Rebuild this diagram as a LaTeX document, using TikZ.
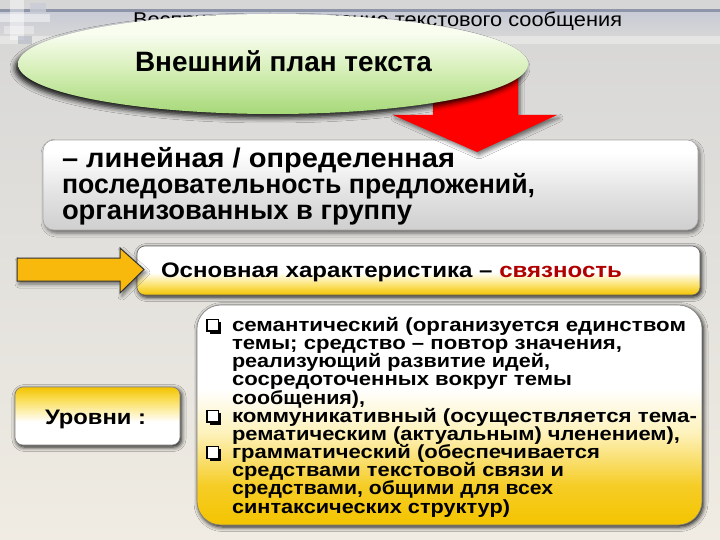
\documentclass[tikz,border=0pt]{standalone}
\usepackage{fontspec}
\usepackage{graphicx}
\setmainfont{Liberation Sans}
\usetikzlibrary{shapes.geometric,shadows,shadows.blur}
\definecolor{bgtop}{HTML}{D6D6D6}
\definecolor{bgbot}{HTML}{F0ECE3}
\definecolor{hdrdark}{HTML}{8E95A8}
\definecolor{hdrlight}{HTML}{C9CCD6}
\definecolor{arrowred}{HTML}{FF0000}
\definecolor{arrowyel}{HTML}{F8B80C}
\definecolor{darkred}{HTML}{B00000}
\definecolor{grayedge}{HTML}{A8A8A8}
\definecolor{grayfill}{HTML}{CFCFCF}
\definecolor{yel}{HTML}{F4C400}
\definecolor{yelmid}{HTML}{FBE26A}
\definecolor{grn}{HTML}{A6D878}
\definecolor{grnmid}{HTML}{D6EFB8}
\definecolor{grntop}{HTML}{F8FDF0}
% shadings: visible part of a path fill is 25bp..75bp
\pgfdeclareverticalshading{ellshade}{100bp}{color(0bp)=(grn); color(25bp)=(grn); color(47bp)=(grnmid); color(65bp)=(grntop); color(100bp)=(grntop)}
\pgfdeclareverticalshading{grayshade}{100bp}{color(0bp)=(grayfill); color(25bp)=(grayfill); color(45bp)=(grayfill!60!white); color(68bp)=(white); color(100bp)=(white)}
\pgfdeclareverticalshading{charshade}{100bp}{color(0bp)=(yel); color(25bp)=(yel); color(35bp)=(yelmid); color(48bp)=(white); color(100bp)=(white)}
\pgfdeclareverticalshading{bigshade}{100bp}{color(0bp)=(yel); color(25bp)=(yel); color(34bp)=(yel!85!white); color(46bp)=(yelmid!45!white); color(56bp)=(white); color(100bp)=(white)}
\pgfdeclareverticalshading{lvlshade}{100bp}{color(0bp)=(white); color(45bp)=(white); color(62bp)=(yelmid); color(75bp)=(yel); color(100bp)=(yel)}
\newcommand\fitw[2]{\resizebox{#1pt}{\height}{#2}}
\tikzset{
  txt/.style={anchor=base west, inner sep=0pt, outer sep=0pt},
  softshadow/.style={blur shadow={shadow xshift=2pt, shadow yshift=-3pt, shadow blur radius=4pt, shadow opacity=55}},
  darkshadow/.style={blur shadow={shadow xshift=1.5pt, shadow yshift=-2pt, shadow blur radius=4.5pt, shadow opacity=95, shadow scale=1.0}},
}
\newcommand\qbox[2]{%
  \fill (#1+2.5,#2+2.5) rectangle (#1+14,#2+14);
  \draw[line width=1.1pt, fill=white] (#1,#2) rectangle (#1+11.5,#2+11.5);}
\begin{document}
\begin{tikzpicture}[x=1pt,y=-1pt]
\useasboundingbox (0,0) rectangle (720,540);
% background
\shade[top color=bgtop, bottom color=bgbot] (0,0) rectangle (720,540);
% header band
\fill[hdrdark] (0,9) rectangle (720,13);
\shade[top color=hdrlight, bottom color=bgtop] (0,13) rectangle (720,36);
\fill[white, opacity=0.35] (0,36) rectangle (720,44);
% top-left decoration
\fill[white, opacity=0.45] (10,0) rectangle (24,40);
\fill[white, opacity=0.45] (0,14) rectangle (50,22);
\fill[hdrlight, opacity=0.8] (30,3) rectangle (46,12);
\fill[white, opacity=0.35] (4,26) rectangle (34,34);
\fill[hdrdark, opacity=0.4] (18,36) rectangle (32,44);
% title (partly hidden)
\node[txt] (title) at (133,27) {\fontsize{20}{20}\selectfont\fitw{489}{Восприятие и понимание текстового сообщения}};
% gray box
\node[draw=grayedge, line width=0.6pt, rounded corners=11pt, shading=grayshade, softshadow,
      minimum width=655pt, minimum height=90pt, inner sep=0pt] (gbox) at (370.5,185) {};
% red arrow
\fill[arrowred, softshadow] (433,55) -- (518,55) -- (518,115) -- (557,115) -- (477,152) -- (393,115) -- (433,115) -- cycle;
% ellipse
\node[ellipse, minimum width=510pt, minimum height=100pt, inner sep=0pt, shading=ellshade,
      blur shadow={shadow xshift=-3pt, shadow yshift=-4pt, shadow blur radius=5pt, shadow opacity=90}] (ell) at (273,64) {};
\node[txt] (elltext) at (135,72) {\fontsize{28}{28}\selectfont\bfseries\fitw{297}{Внешний план текста}};
% gray box text
\node[txt] (g1) at (62,168) {\fontsize{27}{27}\selectfont\bfseries\fitw{393}{– линейная / определенная}};
\node[txt] (g2) at (62,194) {\fontsize{27}{27}\selectfont\bfseries\fitw{473}{последовательность предложений,}};
\node[txt] (g3) at (62,219) {\fontsize{27}{27}\selectfont\bfseries\fitw{350}{организованных в группу}};
% characteristic box
\node[draw=black!60, line width=0.6pt, rounded corners=8pt, shading=charshade, darkshadow,
      minimum width=563pt, minimum height=49pt, inner sep=0pt] (cbox) at (418.5,270.5) {};
\node[txt] (ctext) at (161,277) {\fontsize{21}{21}\selectfont\bfseries\fitw{461}{Основная характеристика – \textcolor{darkred}{связность}}};
% yellow arrow
\filldraw[fill=arrowyel, draw=black!80, line width=1pt, softshadow] (17,258) -- (120,258) -- (120,248) -- (144,269.5) -- (120,293) -- (120,281) -- (17,281) -- cycle;
% levels box
\node[draw=black!50, line width=0.6pt, rounded corners=8pt, shading=lvlshade, darkshadow,
      minimum width=165pt, minimum height=58pt, inner sep=0pt] (lbox) at (97.5,416) {};
\node[txt] (ltext) at (45,424) {\fontsize{21}{21}\selectfont\bfseries\fitw{101}{Уровни :}};
% big box
\node[draw=black!50, line width=0.6pt, rounded corners=24pt, shading=bigshade, darkshadow,
      minimum width=505pt, minimum height=220pt, inner sep=0pt] (bbox) at (449.5,415) {};
\qbox{207}{319.5}
\qbox{207}{410.5}
\qbox{207}{446.9}
\begin{scope}[every node/.style={txt, font=\fontsize{19}{19}\selectfont\bfseries}]
\node (b1) at (232,331.0) {\fitw{454}{семантический (организуется единством}};
\node (b2) at (232,349.2) {\fitw{390}{темы; средство – повтор значения,}};
\node (b3) at (232,367.4) {\fitw{318}{реализующий развитие идей,}};
\node (b4) at (232,385.6) {\fitw{340}{сосредоточенных вокруг темы}};
\node (b5) at (232,404.8) {\fitw{133}{сообщения),}};
\node (b6) at (232,422.0) {\fitw{465}{коммуникативный (осуществляется тема-}};
\node (b7) at (232,440.2) {\fitw{448}{рематическим (актуальным) членением),}};
\node (b8) at (232,458.4) {\fitw{368}{грамматический (обеспечивается}};
\node (b9) at (232,476.6) {\fitw{332}{средствами текстовой связи и}};
\node (b10) at (232,494.8) {\fitw{321}{средствами, общими для всех}};
\node (b11) at (232,513.0) {\fitw{278}{синтаксических структур)}};
\end{scope}
\end{tikzpicture}
\end{document}
